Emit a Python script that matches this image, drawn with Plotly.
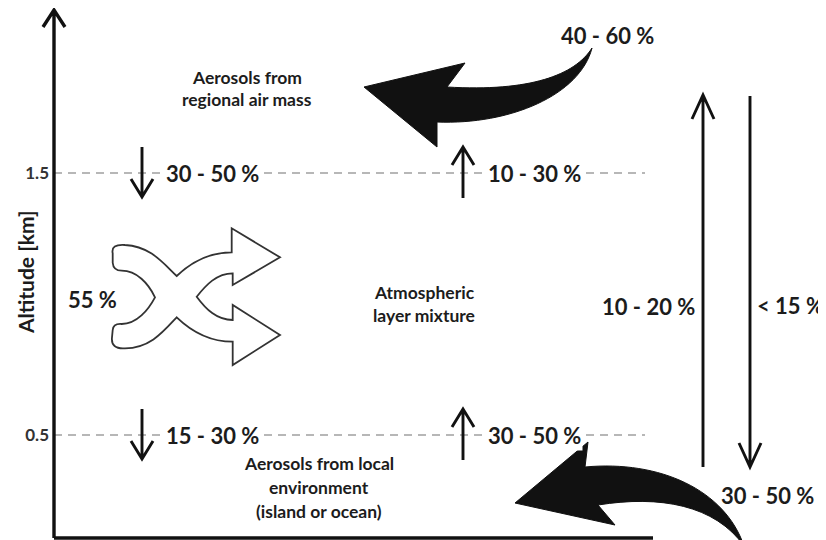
"""
Aerosol transport diagram: vertical exchange between the local boundary
layer, the mixing layer and the regional air mass, drawn with Plotly shapes.
"""

import plotly.graph_objects as go

# altitude levels (km) of the layer boundaries
levels = [1.5, 0.5]
level_ticks = ["1.5", "0.5"]

# fractions crossing each boundary, downward and upward
downward_labels = ["30 - 50 %", "15 - 30 %"]
upward_labels = ["10 - 30 %", "30 - 50 %"]

mixing_label = "55 %"
regional_label = "40 - 60 %"
local_label = "30 - 50 %"
free_up_label = "10 - 20 %"
free_down_label = "< 15 %"

regional_text = ["Aerosols from", "regional air mass"]
mixture_text = ["Atmospheric", "layer mixture"]
local_text = ["Aerosols from local", "environment", "(island or ocean)"]

# page geometry (pixels); the page body adds an 8px margin, so the figure
# is drawn 8px smaller and its coordinates start at 8
W, H = 826, 540
OFF = 8
AXIS_X = 54
KM0_PX = 566
PX_PER_KM = 262

INK = "#111111"
TEXT = "#1c1c1c"
FONT = "Lato"
BIG = dict(family=FONT, size=22, color=TEXT, weight="bold")
SMALL = dict(family=FONT, size=17.5, color=TEXT, weight="bold")


def km_px(alt):
    return KM0_PX - PX_PER_KM * alt


def v_arrow(x, y_from, y_to, head=18, half=11, width=2.9):
    d = 1 if y_to > y_from else -1
    path = (
        f"M{x},{y_from} L{x},{y_to} "
        f"M{x - half},{y_to - d * head} L{x},{y_to} L{x + half},{y_to - d * head}"
    )
    return dict(type="path", xref="x", yref="y2", path=path,
                line=dict(color=INK, width=width))


def icon_path(cmds, ox, oy, s):
    out = []
    for c in cmds:
        pts = " ".join(f"{ox + px * s:.1f},{oy + py * s:.1f}" for px, py in c[1:])
        out.append(c[0] + pts)
    return " ".join(out)


# crossed-arrow outline (local units, scaled into place)
shuffle = [
    ("M", (38, 100)),
    ("Q", (32, 72), (75, 75)),
    ("C", (150, 78), (190, 130), (230, 168)),
    ("C", (275, 125), (330, 97), (395, 97)),
    ("L", (395, 25)),
    ("L", (540, 112)),
    ("L", (398, 195)),
    ("L", (398, 160)),
    ("C", (350, 160), (318, 195), (290, 230)),
    ("C", (318, 268), (350, 300), (398, 300)),
    ("L", (398, 255)),
    ("L", (540, 345)),
    ("L", (398, 435)),
    ("L", (398, 365)),
    ("C", (330, 365), (275, 335), (230, 292)),
    ("C", (190, 335), (150, 385), (75, 385)),
    ("Q", (32, 388), (36, 352)),
    ("L", (38, 330)),
    ("Q", (40, 310), (65, 312)),
    ("C", (110, 312), (145, 270), (165, 232)),
    ("C", (145, 190), (110, 152), (65, 152)),
    ("Q", (40, 152), (38, 128)),
    ("Z",),
]

fig = go.Figure()

# dashed boundary lines at each level
xs, ys = [], []
for lvl in levels:
    xs += [AXIS_X, 645, None]
    ys += [lvl, lvl, None]
fig.add_trace(go.Scatter(
    x=xs, y=ys, mode="lines", showlegend=False, hoverinfo="skip",
    line=dict(color="#a0a0a0", width=1.5, dash="8px,6px"),
))
# anchor the pixel overlay axis
fig.add_trace(go.Scatter(
    x=[OFF], y=[OFF], yaxis="y2", mode="markers", showlegend=False,
    hoverinfo="skip", marker=dict(opacity=0),
))

shapes = []
# axes drawn by hand: arrowed altitude axis and base line
shapes.append(v_arrow(AXIS_X, 538, 10, head=17, half=11, width=3.4))
shapes.append(dict(type="line", xref="x", yref="y2", x0=AXIS_X, x1=653,
                   y0=538, y1=538, line=dict(color=INK, width=3.4)))

# short exchange arrows at each boundary
for lvl in levels:
    p = km_px(lvl)
    shapes.append(v_arrow(142, p - 26, p + 24))
    shapes.append(v_arrow(463, p + 25, p - 26))

# long exchange arrows with the free troposphere
shapes.append(v_arrow(703, 467, 95, head=24, half=11))
shapes.append(v_arrow(750, 96, 467, head=24, half=11))

# big curved inflow arrows
shapes.append(dict(
    type="path", xref="x", yref="y2", fillcolor=INK, line=dict(color=INK, width=1),
    path="M592,48 C575,75 530,92 447,87 L465,63 L364,87 L437,147 L437,122 "
         "C510,125 580,95 592,48 Z",
))
shapes.append(dict(
    type="path", xref="x", yref="y2", fillcolor=INK, line=dict(color=INK, width=1),
    path="M744,546 C725,490 660,460 585,467 L588,442 L515,503 L615,525 L598,505 "
         "C660,495 715,505 744,546 Z",
))

# mixing icon
shapes.append(dict(
    type="path", xref="x", yref="y2", fillcolor="white",
    line=dict(color="#333333", width=1.8),
    path=icon_path(shuffle, 100, 220, 1 / 3),
))

ann = []
for lvl, down, up in zip(levels, downward_labels, upward_labels):
    ann.append(dict(x=164, y=lvl, yref="y", text=down, xanchor="left",
                    font=BIG, bgcolor="white"))
    ann.append(dict(x=486, y=lvl, yref="y", text=up, xanchor="left",
                    font=BIG, bgcolor="white"))

ann += [
    dict(x=607, y=35, text=regional_label, font=BIG),
    dict(x=66, y=299, text=mixing_label, xanchor="left", font=BIG),
    dict(x=697, y=306, text=free_up_label, xanchor="right", font=BIG),
    dict(x=826, y=305, text=free_down_label, xanchor="right", font=BIG),
    dict(x=719, y=495, text=local_label, xanchor="left", font=BIG),
    # altitude axis title, set beside the axis line
    dict(x=25, y=272, text="Altitude [km]", textangle=-90, xanchor="center",
         font=dict(family=FONT, size=21, color=TEXT, weight="bold")),
]
for i, line in enumerate(regional_text):
    ann.append(dict(x=247, y=77 + 22 * i, text=line, font=SMALL))
for i, line in enumerate(mixture_text):
    ann.append(dict(x=424, y=292 + 23 * i, text=line, font=SMALL))
for i, line in enumerate(local_text):
    ann.append(dict(x=319, y=463 + 24 * i, text=line, font=SMALL))

for a in ann:
    a.setdefault("yref", "y2")
    a.setdefault("yanchor", "middle")
    a.update(xref="x", showarrow=False)

fig.update_layout(
    width=W - OFF, height=H - OFF,
    margin=dict(l=0, r=0, t=0, b=0),
    paper_bgcolor="white", plot_bgcolor="white",
    showlegend=False,
    shapes=shapes,
    annotations=ann,
    xaxis=dict(range=[OFF, W], visible=False, fixedrange=True),
    yaxis=dict(
        range=[(KM0_PX - H) / PX_PER_KM, (KM0_PX - OFF) / PX_PER_KM],
        anchor="free", position=(AXIS_X - OFF) / (W - OFF),
        tickvals=levels, ticktext=level_ticks, ticks="",
        ticklabelstandoff=5,
        tickfont=dict(family=FONT, size=17, color="#333333", weight="bold"),
        showgrid=False, zeroline=False, showline=False, fixedrange=True,
    ),
    yaxis2=dict(range=[H, OFF], overlaying="y", visible=False, fixedrange=True),
)

fig.write_html("out.html")
